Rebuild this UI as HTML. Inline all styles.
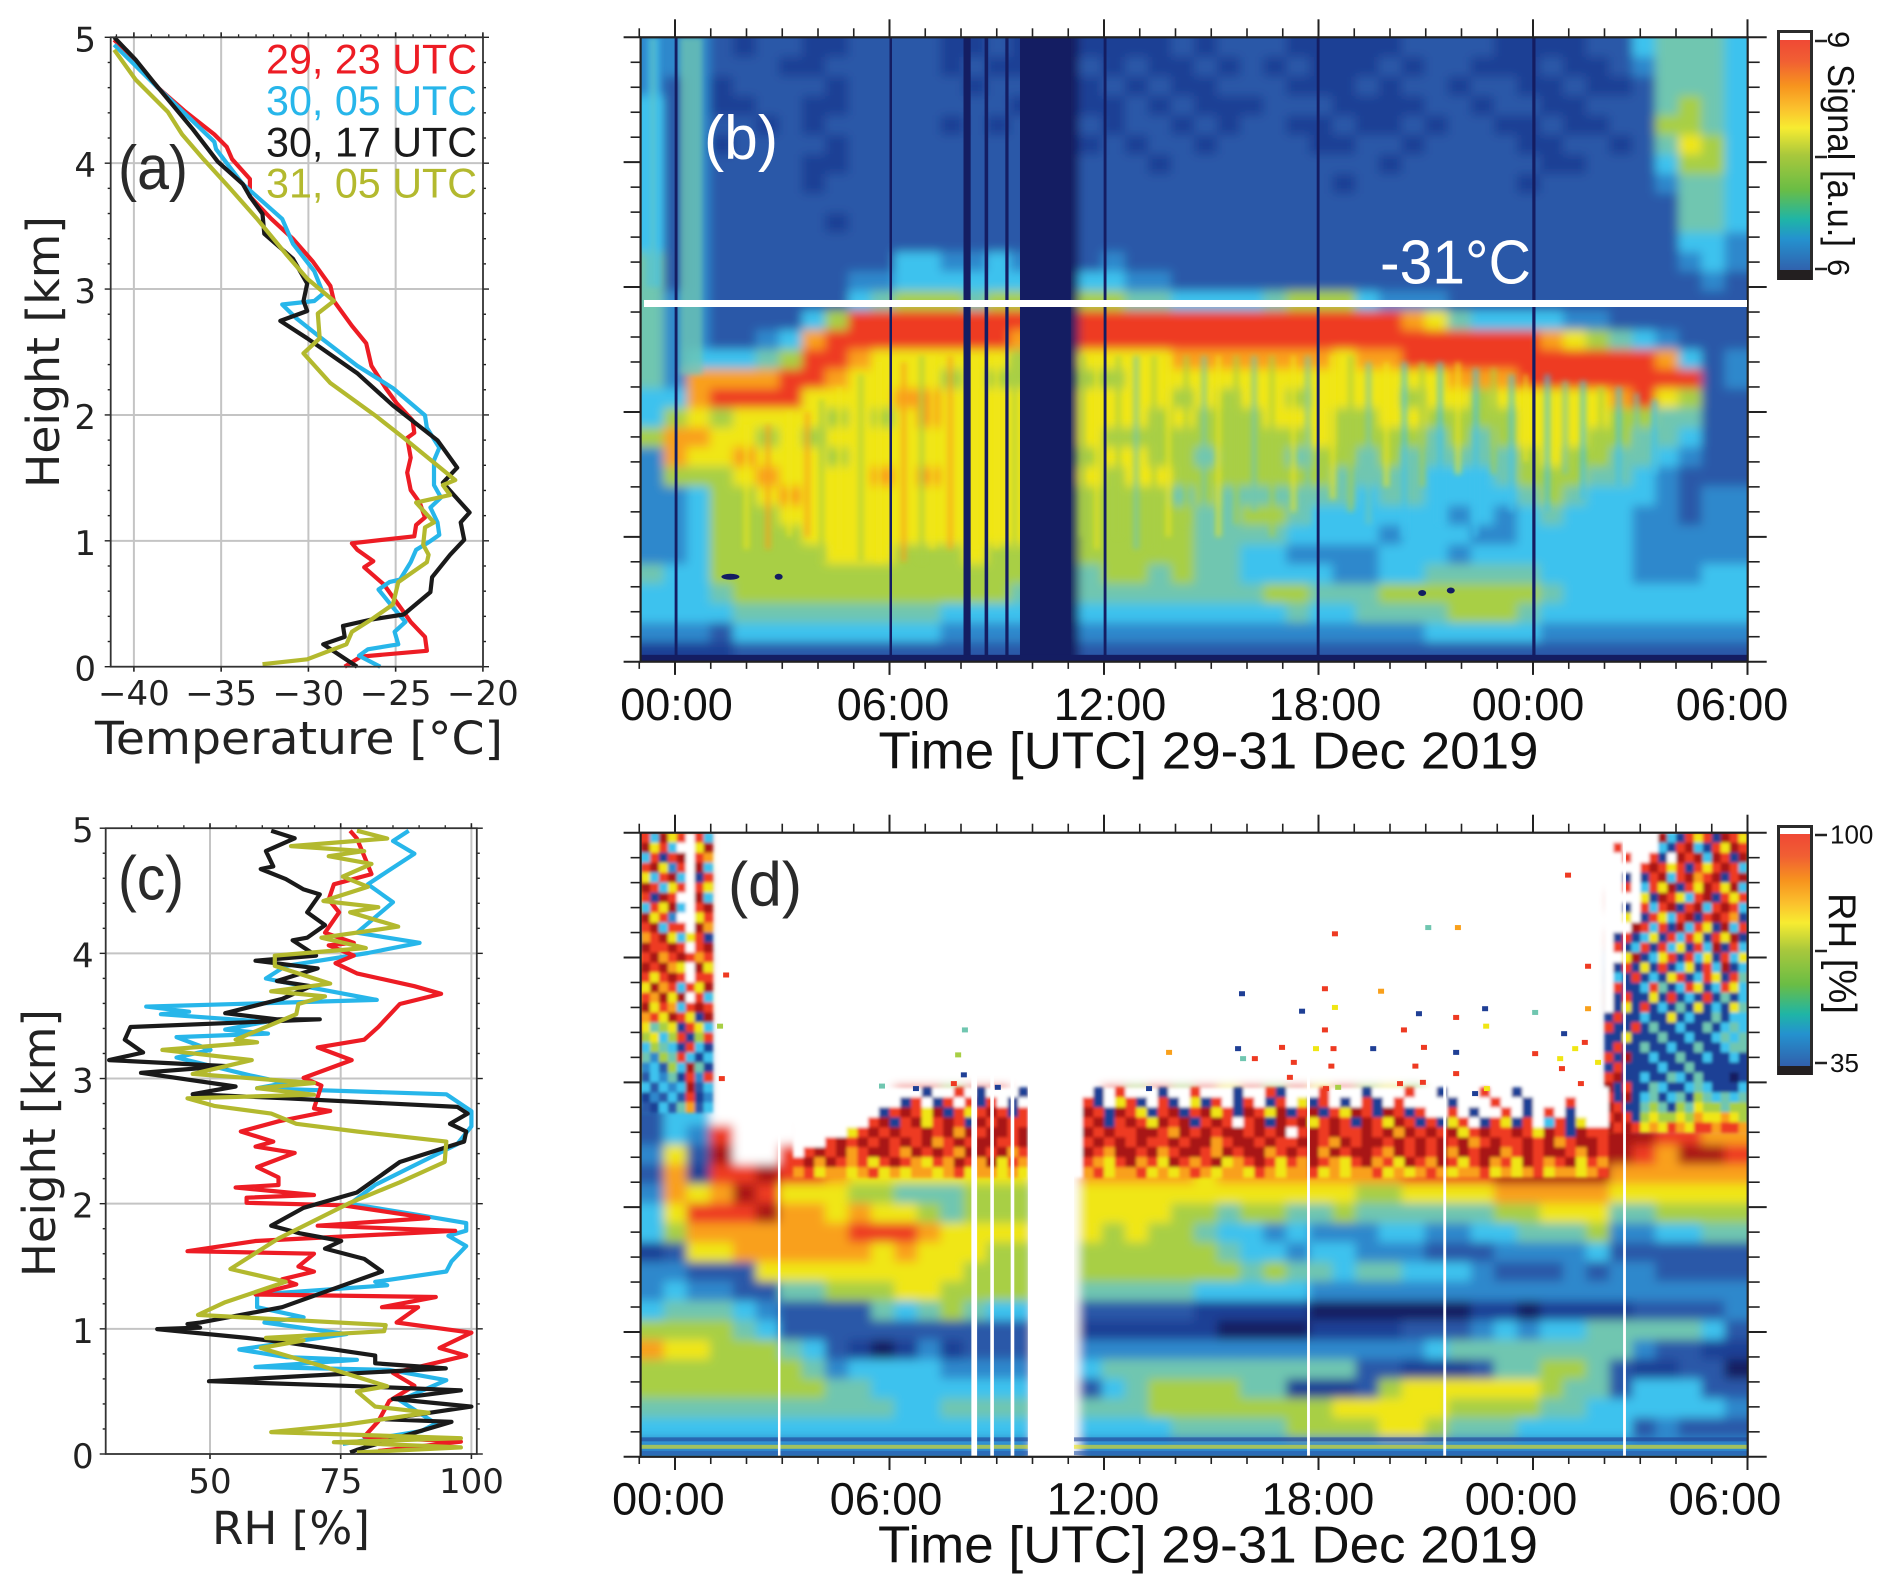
<!DOCTYPE html>
<html lang="en">
<head>
<meta charset="utf-8">
<title>Radiosonde profiles and time-height sections, 29-31 Dec 2019</title>
<style>
html,body{margin:0;padding:0;background:#fff;}
svg{display:block;}
.dj{font-family:"DejaVu Sans",sans-serif;fill:#222;}
.ls{font-family:"Liberation Sans",sans-serif;fill:#111;}
</style>
</head>
<body>
<svg id="figure" xmlns="http://www.w3.org/2000/svg" width="1892" height="1589" viewBox="0 0 1892 1589">
<defs>
<filter id="soft" filterUnits="userSpaceOnUse" x="600" y="0" width="1200" height="1589"><feGaussianBlur stdDeviation="5"/></filter>
<filter id="mid" filterUnits="userSpaceOnUse" x="600" y="0" width="1200" height="1589"><feGaussianBlur stdDeviation="2.6"/></filter>
<filter id="fine" filterUnits="userSpaceOnUse" x="600" y="0" width="1200" height="1589"><feGaussianBlur stdDeviation="1.6"/></filter>
<clipPath id="clip-b"><rect x="640.6" y="37.3" width="1107" height="624.4"/></clipPath>
<clipPath id="clip-d"><rect x="640.6" y="832.7" width="1107" height="624.1"/></clipPath>
<linearGradient id="jet" x1="0" y1="0" x2="0" y2="1">
<stop offset="0" stop-color="#ef4136"/><stop offset=".12" stop-color="#f15f33"/><stop offset=".22" stop-color="#f7941e"/><stop offset=".31" stop-color="#fbc02d"/><stop offset=".39" stop-color="#f7ec31"/><stop offset=".5" stop-color="#a9c83c"/><stop offset=".64" stop-color="#6abd45"/><stop offset=".76" stop-color="#1fb5a6"/><stop offset=".84" stop-color="#2492cf"/><stop offset="1" stop-color="#3455a4"/>
</linearGradient>
</defs>

<g id="panel-a">
<g id="a-grid"></g>
<g id="a-lines"></g>
<g id="a-axes"></g>
<text class="dj" x="299" y="754" font-size="45" text-anchor="middle" textLength="408" lengthAdjust="spacingAndGlyphs">Temperature [°C]</text>
<text class="dj" transform="translate(59,352) rotate(-90)" font-size="45" text-anchor="middle" textLength="272" lengthAdjust="spacingAndGlyphs">Height [km]</text>
<text class="ls" x="477" y="73.5" font-size="42" text-anchor="end" textLength="211" lengthAdjust="spacingAndGlyphs" style="fill:#ed1c24">29, 23 UTC</text>
<text class="ls" x="477" y="115" font-size="42" text-anchor="end" textLength="211" lengthAdjust="spacingAndGlyphs" style="fill:#27b6ea">30, 05 UTC</text>
<text class="ls" x="477" y="156.7" font-size="42" text-anchor="end" textLength="211" lengthAdjust="spacingAndGlyphs" style="fill:#1a1a1a">30, 17 UTC</text>
<text class="ls" x="477" y="197.5" font-size="42" text-anchor="end" textLength="211" lengthAdjust="spacingAndGlyphs" style="fill:#b3b92e">31, 05 UTC</text>
<text class="ls" x="118" y="189" font-size="62" textLength="70" lengthAdjust="spacingAndGlyphs" style="fill:#2a2a2a">(a)</text>
</g>

<g id="panel-c">
<g id="c-grid"></g>
<g id="c-lines"></g>
<g id="c-axes"></g>
<text class="dj" x="291" y="1544" font-size="45" text-anchor="middle" textLength="158" lengthAdjust="spacingAndGlyphs">RH [%]</text>
<text class="dj" transform="translate(55,1143) rotate(-90)" font-size="45" text-anchor="middle" textLength="268" lengthAdjust="spacingAndGlyphs">Height [km]</text>
<text class="ls" x="118" y="899.6" font-size="62" textLength="66" lengthAdjust="spacingAndGlyphs" style="fill:#2a2a2a">(c)</text>
</g>

<g id="panel-b">
<g clip-path="url(#clip-b)"><g id="b-cells" filter="url(#soft)"></g><g id="b-streaks" filter="url(#mid)"></g><g id="b-overlay"></g></g>
<g id="b-axes"></g>
<rect x="644" y="300" width="1103" height="7" fill="#fff"/>
<text class="ls" x="1380" y="283.6" font-size="62" textLength="151" lengthAdjust="spacingAndGlyphs" style="fill:#fff">-31°C</text>
<text class="ls" x="704" y="159" font-size="62" textLength="74" lengthAdjust="spacingAndGlyphs" style="fill:#fff">(b)</text>
<g font-size="45" text-anchor="middle">
<text class="ls" x="676.5" y="720">00:00</text>
<text class="ls" x="893" y="720">06:00</text>
<text class="ls" x="1110" y="720">12:00</text>
<text class="ls" x="1325" y="720">18:00</text>
<text class="ls" x="1528" y="720">00:00</text>
<text class="ls" x="1732" y="720">06:00</text>
</g>
<text class="ls" x="1208.5" y="768.6" font-size="52" text-anchor="middle" textLength="660" lengthAdjust="spacingAndGlyphs">Time [UTC] 29-31 Dec 2019</text>
<g>
<rect x="1778.5" y="31.5" width="33" height="247" fill="url(#jet)" stroke="#2b2b2b" stroke-width="3"/>
<rect x="1780" y="33" width="30" height="7" fill="#fff"/>
<rect x="1778" y="270" width="34" height="10" fill="#231f20"/>
<path d="M1815 41h12M1815 157h12M1815 269h12" stroke="#222" stroke-width="2.5" fill="none"/>
<text class="ls" transform="translate(1828,31) rotate(90)" font-size="31">9</text>
<text class="ls" transform="translate(1828,259) rotate(90)" font-size="31">6</text>
<text class="ls" transform="translate(1828,64) rotate(90)" font-size="37" textLength="183" lengthAdjust="spacingAndGlyphs">Signal [a.u.]</text>
</g>
</g>

<g id="panel-d">
<g clip-path="url(#clip-d)"><g id="d-cells" filter="url(#soft)"></g><g id="d-noise" filter="url(#fine)"></g><g id="d-overlay"></g></g>
<g id="d-axes"></g>
<text class="ls" x="728" y="905.7" font-size="62" textLength="74" lengthAdjust="spacingAndGlyphs" style="fill:#2a2a2a">(d)</text>
<g font-size="45" text-anchor="middle">
<text class="ls" x="668.4" y="1514.6">00:00</text>
<text class="ls" x="886" y="1514.6">06:00</text>
<text class="ls" x="1103" y="1514.6">12:00</text>
<text class="ls" x="1318" y="1514.6">18:00</text>
<text class="ls" x="1521" y="1514.6">00:00</text>
<text class="ls" x="1725" y="1514.6">06:00</text>
</g>
<text class="ls" x="1208" y="1562.4" font-size="52" text-anchor="middle" textLength="660" lengthAdjust="spacingAndGlyphs">Time [UTC] 29-31 Dec 2019</text>
<g>
<rect x="1778.5" y="826.5" width="33" height="247" fill="url(#jet)" stroke="#2b2b2b" stroke-width="3"/>
<rect x="1780" y="828" width="30" height="6" fill="#fff"/>
<rect x="1778" y="1066" width="34" height="9" fill="#231f20"/>
<path d="M1815 835h12M1815 951h12M1815 1063h12" stroke="#222" stroke-width="2.5" fill="none"/>
<text class="ls" x="1830" y="843.5" font-size="26">100</text>
<text class="ls" x="1830" y="1072" font-size="26">35</text>
<text class="ls" transform="translate(1829,893) rotate(90)" font-size="39" textLength="121" lengthAdjust="spacingAndGlyphs">RH [%]</text>
</g>
</g>
</svg>

<script>
/* ---------- Panel (a): temperature profiles ---------- */
const tempHeightRed=[0,.08,.126,.237,.356,.435,.553,.652,.79,.838,.929,.98,1.036,1.126,1.186,1.304,1.403,1.542,1.66,1.818,1.858,1.957,2.095,2.213,2.391,2.569,2.708,2.905,3.024,3.221,3.399,3.557,3.735,3.874,4.032,4.13,4.229,4.407,4.605,4.802,4.98];
const tempValuesRed=[-27.92,-27,-23.21,-23.32,-24.14,-24.54,-25.16,-25.67,-26.8,-26.28,-27.2,-27.51,-23.93,-23.83,-23.32,-23.62,-24.14,-24.34,-24.14,-24.34,-23.93,-24.03,-24.95,-25.57,-26.39,-26.69,-27.51,-28.54,-28.74,-29.76,-30.89,-32.12,-33.35,-33.35,-34.37,-34.68,-35.39,-37.03,-38.67,-39.9,-41.13];
const tempHeightBlue=[0,.087,.138,.178,.277,.356,.455,.613,.672,.692,.83,.929,.988,1.047,1.146,1.265,1.344,1.443,1.64,1.739,1.897,1.996,2.213,2.391,2.609,2.767,2.877,2.905,2.964,3.142,3.36,3.557,3.834,4.111,4.17,4.605,4.941];
const tempValuesBlue=[-25.88,-27.1,-26.59,-24.85,-25.06,-24.44,-25.06,-25.98,-25.36,-24.75,-24.14,-23.83,-23.11,-22.5,-22.6,-23.01,-22.4,-22.8,-22.8,-22.5,-23.21,-23.32,-25.16,-27.21,-29.25,-30.69,-31.5,-29.66,-29.15,-29.66,-30.89,-31.5,-33.76,-35.29,-35.39,-38.67,-41.13];
const tempHeightBlack=[0,.178,.237,.324,.375,.415,.593,.711,.889,1.008,1.146,1.225,1.304,1.462,1.581,1.798,2.075,2.332,2.609,2.747,2.826,2.905,3.043,3.241,3.439,3.597,3.735,3.834,4.012,4.269,4.644,4.822,5];
const tempValuesBlack=[-27.21,-29.15,-27.92,-28.02,-26.39,-24.54,-23.01,-22.91,-21.88,-21.07,-21.27,-20.76,-21.27,-22.29,-21.47,-22.6,-25.16,-27.21,-30.07,-31.61,-30.07,-30.28,-30.07,-30.89,-32.53,-32.63,-33.35,-33.76,-35.19,-36.62,-38.87,-39.9,-41.13];
const tempHeightOlive=[.02,.059,.178,.277,.375,.494,.672,.83,.889,.968,1.107,1.146,1.304,1.364,1.443,1.482,1.818,1.996,2.253,2.49,2.609,2.806,2.905,3.083,3.281,3.557,3.814,4.032,4.229,4.407,4.664,4.901];
const tempValuesOlive=[-32.63,-30.07,-27.82,-27.51,-26.39,-25.16,-24.85,-23.21,-23.11,-23.42,-23.32,-22.8,-23.83,-21.88,-22.29,-21.58,-24.54,-26.18,-28.74,-30.28,-29.35,-29.46,-28.54,-30.07,-31.3,-32.94,-34.58,-36.01,-37.24,-38.06,-39.9,-41.13];
const tempTicks=[-40,-35,-30,-25,-20];
const tempTickLabels=['\u221240','\u221235','\u221230','\u221225','\u221220'];

/* ---------- Panel (c): relative humidity profiles ---------- */
const rhHeightBlue=[4.98,4.898,4.796,4.654,4.552,4.409,4.165,4.084,4.003,3.9,3.799,3.738,3.628,3.575,3.534,3.514,3.453,3.391,3.359,3.331,3.229,3.168,3.025,2.964,2.923,2.874,2.74,2.618,2.476,2.292,2.15,1.999,1.906,1.845,1.784,1.743,1.661,1.539,1.458,1.376,1.348,1.274,1.173,1.092,1.051,.958,.835,.774,.753,.695,.672,.59,.428,.244,.183,.081];
const rhValuesBlue=[88,85,89.1,83.9,80.2,85,78.1,90.1,80.2,64.5,60.7,67.9,81.9,37.8,46,40.6,60.7,52.9,61.1,43.6,50.1,43.6,57.7,64.5,59,95.2,100,100,97.3,88.4,81.6,76.8,90.4,99,99,95.6,99,96.2,95.2,81.6,83.9,59,59,67.9,60.4,76.1,55.6,64.5,78.1,58.7,84.3,95.2,86.3,93.2,90.4,75.4];
const rhHeightRed=[4.98,4.918,4.777,4.633,4.552,4.43,4.328,4.165,4.084,4.064,3.982,3.921,3.84,3.738,3.677,3.595,3.412,3.31,3.249,3.147,3.005,2.944,2.761,2.741,2.658,2.577,2.496,2.456,2.406,2.292,2.21,2.149,2.129,2.069,2.048,2.007,1.987,1.885,1.824,1.783,1.702,1.62,1.6,1.498,1.457,1.396,1.356,1.274,1.254,1.173,1.173,1.051,.969,.847,.786,.647,.546,.424,.261,.138,.098,.024];
const rhValuesRed=[76.8,78.1,79.5,80.9,73.7,72.7,74.7,72,77.5,72.7,77.5,74,78.1,89.1,94.2,86.3,82.2,79.5,70.6,77.1,67.9,71.3,69.9,73,63.1,55.9,62.1,58.7,66.2,59,63.1,63.1,54.9,69.9,57,57,75.4,91.8,70.6,96.9,58.7,45.7,69.9,66.9,69.9,63.8,66.5,58.7,93.2,82.9,89.8,85.7,100,93.9,99,85,89.1,84.3,82.2,79.5,98,82.2];
const rhHeightBlack=[4.98,4.919,4.817,4.695,4.674,4.593,4.511,4.471,4.328,4.226,4.125,4.104,3.982,3.941,3.88,3.779,3.738,3.636,3.522,3.473,3.473,3.412,3.31,3.208,3.147,3.099,3.046,2.936,2.875,2.842,2.773,2.72,2.638,2.577,2.496,2.333,2.089,1.967,1.824,1.763,1.702,1.641,1.559,1.458,1.336,1.173,1.05,1.038,1.01,.998,.928,.888,.786,.725,.684,.623,.582,.542,.509,.44,.379,.277,.257,.033,.012];
const rhValuesBlack=[61.7,66.2,60.7,62.1,59.7,64.5,67.9,71,68.6,72,68.6,65.8,70.3,58.7,70.6,62.8,69.3,63.8,52.9,62.8,71,34.8,33.7,37.2,30.7,53.2,36.8,54.9,46.7,64.5,97.3,99.3,95.9,99,98.6,86.3,78.1,67.9,61.7,67.2,75.1,72,79.5,82.9,74.7,63.8,48.1,45.7,48.1,39.9,57,65.2,81.6,81.6,95.1,67.9,49.8,78.1,98,85,100,83.6,96.2,78.1,76.8];
const rhHeightOlive=[4.98,4.918,4.857,4.817,4.776,4.715,4.613,4.532,4.418,4.369,4.328,4.214,4.125,4.043,3.982,3.9,3.758,3.697,3.656,3.595,3.514,3.31,3.289,3.229,3.147,3.037,2.964,2.923,2.871,2.842,2.781,2.72,2.638,2.577,2.496,2.333,2.171,2.007,1.722,1.478,1.376,1.213,1.111,1.03,.981,.928,.908,.847,.704,.541,.5,.379,.33,.236,.175,.126,.094,.053,.012];
const rhValuesOlive=[78.1,83.9,65.5,79.5,72.7,80.9,75.4,80.2,71.7,82.2,76.8,86,71.3,79.8,62.4,62.4,73,61.7,72,66.9,66.5,54.9,59,40.9,58,46.7,69.9,59,69.9,45.7,50.8,61.7,66.5,78.1,95.2,94.9,86.3,76.8,63.1,53.9,64.5,52.9,47.7,83.6,83.3,60.7,67.9,59.7,71.3,83.9,78.1,81.6,91.8,76.1,61.7,98,73.7,98,78.1];
const rhTicks=[50,75,100];
const rhTickLabels=['50','75','100'];
const heightTicks=[0,1,2,3,4,5];
const heightTickLabels=['0','1','2','3','4','5'];

/* ---------- Panel (b): signal section, one array per time column, top row first ---------- */
const signalColumns=[
[3,3,3,4,4,4,4,4,4,4,4,5,5,5,5,5,5,5,4,4,6,3,3,3,3,3,3,5,4,4,3,1],
[3,3,2,2,2,2,2,2,2,2,2,2,2,3,3,3,3,3,4,6,8,8,6,3,3,3,3,4,4,4,3,1],
[3,3,3,3,3,3,3,3,3,3,3,3,3,3,3,3,4,8,8,7,8,7,6,4,4,4,4,4,4,4,3,1],
[2,2,1,1,2,1,2,2,2,2,2,2,2,2,2,2,4,8,9,6,7,7,6,6,6,6,6,6,5,4,2,1],
[1,2,2,1,2,2,2,2,2,2,2,2,2,2,2,2,4,8,9,7,7,8,7,6,6,6,6,6,6,5,4,2],
[2,2,2,2,1,2,2,2,2,2,2,2,2,2,2,3,5,8,9,7,6,7,8,7,6,6,6,6,6,5,4,2],
[2,1,2,2,2,2,2,2,2,2,2,2,2,2,2,4,6,9,9,7,7,7,7,8,7,6,6,6,6,5,4,2],
[1,1,2,1,1,2,1,1,2,2,2,2,2,2,4,8,9,9,7,7,6,7,7,7,7,7,6,6,6,5,4,2],
[1,2,1,1,2,1,1,2,2,1,2,2,2,2,6,9,9,8,7,6,7,6,7,7,7,7,7,6,6,5,4,2],
[2,2,2,2,2,2,2,2,2,2,2,2,3,4,9,9,8,7,7,7,7,7,7,7,7,7,7,6,6,5,4,2],
[2,2,2,2,2,2,2,2,2,2,2,2,3,5,9,9,7,7,7,6,7,7,8,7,7,7,7,6,6,5,4,2],
[2,2,2,2,2,2,2,2,2,2,2,4,4,6,9,9,7,7,8,7,7,7,7,7,7,7,6,6,6,5,4,2],
[2,2,2,2,2,2,2,2,2,2,2,4,4,6,9,9,7,7,8,8,7,7,8,7,7,7,6,6,6,5,4,2],
[1,1,2,2,1,2,2,2,2,2,2,3,4,6,9,9,7,6,7,7,7,7,7,7,7,7,6,6,6,4,3,2],
[1,2,1,2,2,2,2,2,2,2,2,3,4,5,9,9,7,7,7,7,7,7,7,7,7,7,7,6,6,4,3,2],
[2,1,2,2,1,2,2,2,2,2,2,4,4,6,9,9,7,6,7,7,7,7,7,7,7,7,6,6,6,4,3,2],
[1,1,2,1,2,2,2,2,2,2,2,3,4,6,9,8,6,6,7,7,7,7,7,7,7,7,6,6,5,4,3,2],
[0,0,0,0,0,0,0,0,0,0,0,0,0,0,0,0,0,0,0,0,0,0,0,0,0,0,0,0,0,0,0,0],
[0,0,0,0,0,0,0,0,0,0,0,0,0,0,0,0,0,0,0,0,0,0,0,0,0,0,0,0,0,0,0,0],
[1,2,1,1,2,1,2,2,2,2,2,2,4,6,9,9,7,6,7,7,7,6,7,6,6,6,6,5,5,4,3,2],
[1,1,2,1,1,2,2,2,2,2,2,3,4,6,9,9,7,6,7,7,6,7,6,6,6,6,6,6,5,4,3,2],
[1,2,1,2,2,1,2,2,2,2,2,2,3,5,9,9,7,7,7,7,6,7,7,6,6,6,6,6,5,4,3,2],
[1,1,2,1,2,2,1,2,2,2,2,2,3,5,9,9,7,7,7,6,6,6,7,6,6,6,6,5,5,4,3,2],
[2,1,1,2,1,2,2,2,2,2,2,2,2,4,9,9,8,7,6,7,6,6,6,5,6,6,6,6,5,4,3,2],
[1,2,1,1,2,1,2,2,2,2,2,2,2,4,9,9,8,7,7,6,6,5,6,6,5,5,5,5,5,4,3,2],
[2,1,2,1,1,2,2,2,2,2,2,2,2,4,9,9,8,7,6,6,6,6,6,5,5,5,5,5,5,4,3,2],
[2,2,2,1,2,2,2,2,2,2,2,2,2,4,9,9,8,7,7,6,6,6,6,5,6,5,4,4,5,4,3,2],
[2,1,2,2,2,2,2,2,2,2,2,2,2,5,9,9,8,7,7,7,6,6,6,5,6,5,4,4,6,4,3,2],
[1,2,1,2,1,2,2,2,2,2,2,2,2,6,9,9,8,7,6,7,6,5,6,5,5,4,3,4,6,5,3,2],
[1,1,1,2,1,1,2,2,2,2,2,2,2,6,9,9,8,7,7,7,7,6,6,5,4,4,3,4,5,4,3,2],
[1,1,1,1,2,1,2,1,2,2,2,2,2,6,9,9,7,7,7,6,6,6,5,5,4,4,3,3,5,4,3,2],
[1,1,2,1,1,2,2,2,2,2,2,2,2,4,9,9,8,7,7,6,6,5,5,4,4,4,3,3,5,5,3,2],
[1,2,1,1,1,2,1,2,2,2,2,2,2,3,9,9,8,7,7,7,6,6,5,5,4,3,4,4,6,5,3,2],
[2,1,2,1,2,1,2,2,2,2,2,2,2,3,8,9,9,7,6,7,6,5,5,5,4,4,4,4,6,5,3,2],
[2,2,2,2,1,2,2,2,2,2,2,2,2,3,7,9,9,7,7,6,5,5,4,4,4,4,4,5,6,5,4,2],
[2,2,1,2,2,2,2,2,2,2,2,2,2,2,5,9,9,8,7,6,6,5,4,4,3,4,3,5,6,6,4,2],
[2,1,2,1,2,2,2,2,2,2,2,2,2,2,4,9,9,8,6,6,5,5,4,4,4,3,4,5,6,6,4,2],
[1,1,2,2,1,2,2,2,2,2,2,2,2,2,4,9,9,8,7,6,6,5,5,4,3,3,4,5,6,6,4,2],
[1,1,1,2,1,1,2,1,2,2,2,2,2,2,4,9,9,9,7,7,7,6,6,5,4,4,4,5,6,5,4,2],
[1,2,1,1,2,1,1,2,2,2,2,2,2,2,4,8,9,9,7,7,7,7,6,6,5,4,4,4,5,4,3,2],
[1,1,2,1,1,2,1,2,2,2,2,2,2,2,3,7,9,9,7,7,7,6,6,5,4,4,4,4,4,4,3,2],
[2,1,1,2,1,2,2,2,2,2,2,2,2,2,3,6,9,9,7,7,6,6,5,4,4,4,4,4,4,4,3,2],
[2,2,1,2,2,1,2,2,2,2,2,2,2,2,2,5,9,9,8,6,6,5,5,4,4,4,4,4,4,4,3,2],
[4,3,2,2,2,2,2,2,2,2,2,2,2,2,2,4,9,9,9,6,5,5,4,4,3,3,3,3,4,4,3,2],
[5,5,5,5,6,5,4,3,2,2,2,2,2,2,2,3,8,9,7,5,5,4,3,3,3,3,3,3,4,4,3,2],
[5,5,5,6,6,7,6,5,5,5,4,3,2,2,2,2,4,9,6,5,4,3,2,2,2,3,3,3,4,4,3,2],
[5,5,5,5,5,6,6,5,5,5,4,4,3,2,2,2,2,2,2,2,2,2,2,3,3,3,3,4,4,4,3,2],
[4,4,4,4,4,4,4,4,4,4,3,3,2,2,2,2,3,3,2,2,2,2,2,3,3,3,3,4,4,4,3,2]
];
const signalGapStart=[-0.01,6,8.07,8.66,9.24,9.65,11.99,17.95,23.98];
const signalGapEnd=[0.07,6.07,8.27,8.76,9.33,11.07,12.07,18.03,24.07];
const signalHoleHour=[1.55,2.9,20.9,21.7];
const signalHoleHeight=[.68,.68,.55,.57];
const streakHour=[.2,.3,.4,.5,.6,.7,-.7,-.6,-.5,2,2.6,3.2,3.7,4.1,4.6,5.2,5.7,6.4,6.9,7.2,7.7,8.4,9,9.5,11.4,11.8,12.4,12.9,13.4,13.8,14.3,14.8,15.2,15.7,16.2,16.7,17.3,17.7,18.4,18.9,19.4,19.9,20.4,20.9,21.4,21.9,22.4,22.9,23.4,23.8,24.4,24.9,25.4,25.9,26.4,26.9,27.4];
const streakLevel=[5,5,5,5,5,5,4,5,4,7,8,7,8,6,7,6,7,8,6,7,8,7,7,6,6,7,6,5,6,7,6,5,7,6,5,6,7,5,7,6,5,7,4,6,4,7,4,6,4,7,4,5,4,6,4,5,4];
const streakTop=[5,5,5,5,5,5,5,5,5,1.9,1.9,2,2,2.1,2.2,2.3,2.4,2.4,2.45,2.45,2.45,2.45,2.45,2.45,2.45,2.45,2.45,2.45,2.45,2.45,2.45,2.45,2.45,2.45,2.45,2.45,2.45,2.45,2.45,2.45,2.4,2.4,2.4,2.4,2.4,2.4,2.35,2.35,2.3,2.3,2.3,2.25,2.25,2.2,2.2,2.15,2.1];
const streakBottom=[2.3,2.3,2.3,2.3,2.3,2.3,3,3,3,.9,.9,1,1,.8,.9,.8,.8,.8,.8,.9,.9,.9,.9,.9,1,.9,1,.9,.9,1,1.1,1,1,1.1,1.2,1,1.2,1.1,1.3,1.2,1.1,1.4,1,1.4,1.1,1.5,1,1.5,1.2,1.6,1.2,1.5,1.3,1.6,1.4,1.6,1.5];

/* ---------- Panel (d): RH section, one array per time column, 11 = no data ---------- */
const rhColumns=[
[9,4,10,7,9,3,8,10,7,9,10,9,6,4,2,2,3,2,3,4,4,1,3,3,4,6,8,6,6,5,4,3],
[8,9,3,10,7,9,4,9,10,7,8,5,4,3,4,4,7,8,8,7,6,2,3,4,5,6,7,6,6,5,4,3],
[9,7,10,8,9,4,10,9,7,9,4,3,2,1,4,3,2,1,7,9,8,7,2,3,5,6,7,6,6,5,4,3],
[11,11,11,11,11,11,11,11,11,11,11,11,11,11,11,9,10,9,8,9,8,7,2,3,5,6,6,6,6,5,4,3],
[11,11,11,11,11,11,11,11,11,11,11,11,11,11,11,11,11,9,10,9,8,8,2,2,4,5,6,6,6,5,4,3],
[11,11,11,11,11,11,11,11,11,11,11,11,11,11,11,11,11,10,9,10,8,8,7,2,3,4,6,6,6,5,4,3],
[11,11,11,11,11,11,11,11,11,11,11,11,11,11,11,11,9,9,7,8,8,8,7,5,2,2,5,6,6,5,4,3],
[11,11,11,11,11,11,11,11,11,11,11,11,11,11,11,9,10,9,7,8,8,8,7,5,2,2,4,5,6,5,4,3],
[11,11,11,11,11,11,11,11,11,11,11,11,11,11,11,10,9,8,7,7,8,8,7,6,2,2,2,3,5,5,4,3],
[11,11,11,11,11,11,11,11,11,11,11,11,11,11,9,10,10,7,6,8,9,8,7,6,2,2,1,4,5,5,4,3],
[11,11,11,11,11,11,11,11,11,11,11,11,11,11,10,9,10,7,6,7,9,7,7,6,5,2,0,4,4,5,4,3],
[11,11,11,11,11,11,11,11,11,11,11,11,11,9,10,9,10,7,5,7,9,8,7,7,4,2,1,4,4,4,4,3],
[11,11,11,11,11,11,11,11,11,11,11,11,11,9,10,9,9,7,5,6,8,7,7,7,5,2,3,4,4,4,4,3],
[11,11,11,11,11,11,11,11,11,11,11,11,11,6,9,10,9,7,5,5,7,7,7,6,6,2,1,3,4,5,4,3],
[11,11,11,11,11,11,11,11,11,11,11,11,11,9,10,10,9,7,6,6,7,7,6,6,5,2,2,3,4,5,4,3],
[11,11,11,11,11,11,11,11,11,11,11,11,11,9,9,10,10,7,6,6,7,6,6,6,4,2,2,3,4,5,4,3],
[11,11,11,11,11,11,11,11,11,11,11,11,11,11,10,9,10,7,6,6,7,6,6,6,4,2,2,3,4,5,4,3],
[11,11,11,11,11,11,11,11,11,11,11,11,11,11,11,11,11,11,11,11,11,11,11,11,11,11,11,11,11,11,11,11],
[11,11,11,11,11,11,11,11,11,11,11,11,11,11,11,11,11,11,11,11,11,11,11,11,11,11,11,11,11,11,11,11],
[11,11,11,11,11,11,11,11,11,11,11,11,11,11,9,10,9,8,7,7,7,6,6,5,2,1,3,4,2,5,4,3],
[11,11,11,11,11,11,11,11,11,11,11,11,11,9,10,10,9,8,7,7,6,6,6,5,2,1,3,5,4,5,4,3],
[11,11,11,11,11,11,11,11,11,11,11,11,11,6,9,10,10,8,7,7,7,6,6,5,2,1,3,5,5,5,4,3],
[11,11,11,11,11,11,11,11,11,11,11,11,11,9,10,9,9,8,7,7,6,6,6,5,2,1,3,5,6,6,4,3],
[11,11,11,11,11,11,11,11,11,11,11,11,11,6,10,10,9,8,7,6,6,6,6,5,2,1,3,5,6,6,5,3],
[11,11,11,11,11,11,11,11,11,11,11,11,11,9,10,10,9,7,7,6,5,6,6,4,1,1,3,5,6,6,5,3],
[11,11,11,11,11,11,11,11,11,11,11,11,11,7,9,10,9,8,7,5,4,5,6,4,1,0,3,5,6,6,5,3],
[11,11,11,11,11,11,11,11,11,11,11,11,11,9,10,9,10,8,7,6,4,4,5,4,1,0,3,5,5,6,5,3],
[11,11,11,11,11,11,11,11,11,11,11,11,11,6,10,10,9,8,7,6,3,4,6,4,1,0,3,5,5,6,5,3],
[11,11,11,11,11,11,11,11,11,11,11,11,11,9,9,10,10,8,7,5,4,3,5,4,1,0,3,5,1,6,6,3],
[11,11,11,11,11,11,11,11,11,11,11,11,11,7,10,10,9,8,7,5,3,4,5,3,0,1,3,5,1,6,6,3],
[11,11,11,11,11,11,11,11,11,11,11,11,11,9,10,9,10,8,7,6,3,4,4,3,0,1,3,5,1,7,6,3],
[11,11,11,11,11,11,11,11,11,11,11,11,11,6,9,10,10,8,6,5,3,3,5,3,0,1,3,2,2,7,6,3],
[11,11,11,11,11,11,11,11,11,11,11,11,11,7,10,10,9,8,6,5,4,3,5,3,0,1,3,2,6,7,7,3],
[11,11,11,11,11,11,11,11,11,11,11,11,11,6,9,10,10,9,7,5,4,3,4,3,0,2,3,1,7,7,7,3],
[11,11,11,11,11,11,11,11,11,11,11,11,11,11,9,10,10,9,7,5,3,2,4,3,0,2,4,1,7,7,6,3],
[11,11,11,11,11,11,11,11,11,11,11,11,11,11,9,10,10,9,7,5,3,2,4,3,0,2,5,1,7,6,5,3],
[11,11,11,11,11,11,11,11,11,11,11,11,11,11,9,10,10,9,7,5,4,2,3,3,1,3,5,2,7,6,5,3],
[11,11,11,11,11,11,11,11,11,11,11,11,11,11,6,9,10,10,8,6,4,3,2,3,1,4,5,5,7,6,5,3],
[11,11,11,11,11,11,11,11,11,11,11,11,11,11,4,9,10,10,8,6,5,3,2,3,0,3,5,5,7,6,4,3],
[11,11,11,11,11,11,11,11,11,11,11,11,11,11,6,9,10,10,8,7,5,3,2,3,1,4,5,6,6,5,4,3],
[11,11,11,11,11,11,11,11,11,11,11,11,11,11,6,9,10,10,8,7,5,3,3,3,1,4,5,6,5,5,4,3],
[11,11,11,11,11,11,11,11,11,11,11,11,11,11,6,10,10,10,8,7,6,4,2,3,1,5,5,5,5,4,4,3],
[11,11,11,9,11,9,3,1,10,1,3,1,2,1,9,10,10,8,7,5,3,2,3,3,1,5,5,2,2,4,4,3],
[11,9,3,9,10,7,4,9,2,3,1,9,2,1,3,10,9,8,7,5,3,2,3,3,2,5,3,1,4,4,2,3],
[11,3,10,9,4,9,7,3,10,4,2,1,2,5,4,9,8,8,7,6,4,2,2,3,2,5,2,1,4,4,3,3],
[9,10,4,7,10,9,3,9,4,7,1,3,1,2,5,9,10,8,7,6,4,2,2,3,2,5,2,2,4,4,2,3],
[10,9,7,3,9,10,7,4,9,3,2,1,4,1,5,8,10,8,7,6,5,2,2,3,2,4,1,2,2,4,2,3],
[9,7,10,9,4,9,2,9,3,4,4,2,1,2,5,8,9,8,7,6,5,2,2,3,3,2,1,0,2,3,2,3]
];
const rhGapStart=[2.88,8.29,8.82,9.39,9.87,17.68,21.49,26.52];
const rhGapEnd=[2.95,8.45,8.92,9.49,11.16,17.76,21.57,26.6];
const groundBandHeight=[.14,.08,.03];
const groundBandLevel=[1,7,2];
const speckHour=[18.46,21.07,21.9,24.98,15.86,18.18,19.75,17.54,18.46,20.81,21.85,22.66,22.69,24.06,25.54,25.54,18.18,20.39,16.98,17.93,18.42,19.53,20.95,21.85,24.06,25.18,25.45,24.87,24.76,25.82,17.31,16.22,18.36,20.71,21.85,18.55,18.21,20.92,20.28,22.71,22.38,17.2,24.81,25.34,8.11,7.92,8.08,7.8,5.79,6.74,15.75,15.89,13.82,9.03,13.26,1.43,1.26,1.31];
const speckHeight=[4.19,4.24,4.24,4.66,3.71,3.75,3.73,3.57,3.6,3.55,3.52,3.59,3.45,3.56,3.93,3.59,3.42,3.42,3.28,3.27,3.27,3.27,3.28,3.24,3.23,3.27,3.32,3.39,3.19,3.16,3.16,3.19,3.13,3.13,3.07,2.96,2.95,3,2.99,2.95,2.91,3.04,3.11,2.99,3.42,3.22,3.06,2.99,2.97,2.95,3.27,3.19,3.24,2.96,2.95,3.86,3.45,3.03];
const speckLevel=[9,5,8,9,1,9,8,1,7,1,9,1,7,5,9,8,9,9,9,7,9,1,9,1,9,7,9,1,7,7,9,9,9,9,9,6,9,9,9,7,1,9,9,9,5,6,1,9,5,1,1,5,8,1,1,9,6,9];

/* Fine noise texture, read by eye: left sounding-top block, one array per height row, top first */
const noiseLeftRows=[
[9,4,10,7,9,11,9,4],[10,7,9,4,11,11,7,10],[4,9,1,9,10,11,9,8],[9,10,7,3,9,11,10,4],[7,4,9,10,4,11,1,9],[10,9,4,7,9,11,9,7],[9,1,10,9,11,11,10,4],[4,9,7,10,4,11,9,10],
[10,7,9,3,11,11,7,9],[9,10,4,9,9,11,10,8],[8,9,10,7,4,7,9,1],[10,9,9,10,9,11,9,10],[9,10,8,9,10,9,8,9],[10,9,10,8,7,11,10,7],[9,7,9,10,9,11,9,9],[7,10,8,9,4,9,7,10],
[9,8,10,7,10,11,9,4],[10,7,9,8,4,9,10,9],[8,9,7,10,9,7,1,10],[7,5,6,7,1,9,7,4],[6,7,4,6,9,1,6,9],[4,6,5,4,1,9,4,1],[5,3,6,5,9,4,1,4],[3,4,2,6,4,10,5,1],
[2,4,3,5,1,9,3,9],[4,2,4,3,4,10,2,4],[1,3,2,4,2,9,1,3],[2,1,4,2,5,8,2,4]
];
/* Right block, 16 columns from 26:00 on the second day */
const noiseRightRows=[
[11,11,11,11,11,11,10,4,1,9,7,9,1,10,9,7],[11,9,11,11,11,11,4,1,9,10,4,1,9,7,10,9],[11,11,9,11,11,9,1,11,10,9,10,4,10,9,1,10],[11,11,11,11,9,10,9,7,9,1,9,7,9,10,9,4],
[11,11,1,11,1,9,10,4,9,10,8,9,10,1,9,10],[11,11,9,11,4,9,7,10,1,9,7,10,9,7,10,4],[11,11,11,11,7,1,10,9,7,4,9,10,1,9,7,9],[11,11,1,11,9,4,9,10,1,9,10,4,9,10,9,4],
[11,11,7,11,1,9,7,4,9,10,1,9,10,9,8,1],[11,11,11,10,9,4,9,1,10,4,9,7,1,10,4,9],[11,1,9,1,4,7,1,9,4,9,7,1,9,7,10,1],[11,9,1,4,9,1,9,4,7,1,9,4,10,1,9,4],
[11,11,7,10,1,4,7,9,1,9,4,7,1,9,4,7],[11,1,9,1,7,1,9,1,4,7,1,9,4,10,1,4],[11,4,1,9,1,4,1,7,9,1,4,9,7,1,9,5],[11,9,1,1,4,9,5,1,4,9,7,1,4,9,7,4],
[11,1,9,1,1,7,1,9,1,4,1,9,1,5,1,4],[11,1,7,1,9,1,4,1,5,1,7,1,4,1,7,5],[1,9,1,1,4,1,1,7,1,4,1,1,5,1,4,4],[9,1,1,9,1,5,1,1,4,1,1,5,1,4,5,4],
[1,1,7,1,1,1,5,1,1,4,1,1,4,5,4,5],[1,9,1,1,5,1,1,4,1,1,5,1,1,4,5,5],[9,1,10,1,1,4,1,1,5,1,1,4,1,1,4,1],[1,9,1,1,1,1,4,1,1,5,1,1,1,1,1,1],
[9,10,1,1,4,1,1,5,4,1,5,1,1,1,0,1],[10,1,9,1,1,5,4,1,1,4,5,4,1,1,1,4],[9,1,10,1,4,5,1,4,5,1,6,5,4,5,4,5],[10,9,1,1,5,6,5,1,6,5,7,6,6,5,6,6],
[9,10,9,1,6,7,6,6,7,6,8,7,7,8,7,6],[10,9,10,9,7,8,7,9,8,7,9,9,8,9,9,8]
];
/* Cloud-top band, 76 columns from 03:18 in 0.3 h steps */
const noiseBandRows=[
[11,11,11,11,11,11,11,11,11,11,11,11,1,11,11,9,11,1,11,11,11,1,11,11,11,11,11,11,1,11,9,11,11,11,1,11,11,9,11,11,11,1,11,11,9,1,11,11,11,9,11,11,11,1,11,11,11,9,11,11,1,11,11,11,9,11,11,1,11,11,11,11,11,11,11,11],
[11,11,11,11,11,11,11,11,11,11,1,9,11,1,9,11,9,1,9,11,1,11,11,11,11,11,11,9,1,11,7,9,1,11,9,1,11,7,1,9,11,1,9,11,1,9,11,7,1,9,11,1,11,9,1,11,9,11,11,11,11,1,11,11,11,9,11,11,1,11,11,11,9,11,11,11],
[11,11,11,11,11,11,11,11,1,9,10,9,7,10,1,9,7,9,10,9,1,9,11,11,11,11,11,10,9,1,10,9,7,1,9,10,1,9,10,7,9,1,10,9,7,10,1,9,10,1,9,7,10,9,1,10,9,1,9,11,11,9,11,1,11,11,9,11,1,11,9,11,1,11,11,11],
[11,11,11,11,11,11,11,9,10,1,9,10,7,9,10,9,1,10,9,10,9,9,11,11,11,11,11,9,10,1,9,10,9,7,10,9,10,1,9,10,9,11,9,10,1,10,9,10,7,9,10,9,1,10,9,7,10,9,1,9,1,7,9,11,1,9,7,1,9,11,4,9,1,7,11,11],
[11,11,11,11,11,7,9,10,9,10,9,9,10,9,10,8,10,9,10,10,9,10,11,11,11,11,11,10,9,10,9,9,10,10,9,8,10,9,10,9,10,10,9,10,9,10,11,9,10,9,10,9,9,10,9,10,8,10,9,10,9,10,7,9,10,9,9,10,9,7,10,9,1,10,9,9],
[11,11,11,9,10,9,10,9,10,9,10,9,10,8,9,10,9,10,10,9,9,10,11,11,11,11,11,9,10,9,10,9,10,9,9,10,9,10,10,8,9,10,10,9,10,9,9,10,10,9,8,10,9,10,10,9,10,9,10,9,10,9,10,8,9,10,9,9,10,9,10,8,9,10,10,9],
[11,9,10,9,10,8,9,10,10,9,8,10,9,10,9,8,10,10,9,10,8,9,11,11,11,11,11,10,9,8,10,10,9,10,8,9,10,10,9,8,10,9,10,10,8,9,10,9,10,8,10,9,10,10,9,8,10,9,10,9,10,8,10,9,10,10,8,9,10,9,10,10,9,8,10,9],
[9,10,8,10,9,8,9,7,9,10,9,8,7,9,8,10,9,8,10,7,9,8,11,11,11,11,11,9,8,7,9,10,8,9,7,10,9,8,9,10,7,8,9,10,9,7,9,8,10,9,8,7,9,10,8,9,7,10,9,8,10,9,7,9,10,8,9,7,10,9,8,9,10,7,9,8],
[8,9,7,8,8,7,8,9,7,8,7,8,8,7,8,9,7,8,8,7,8,7,11,11,11,11,11,8,9,7,8,8,9,7,8,7,8,9,8,7,8,8,7,9,8,7,8,8,9,7,8,7,8,8,9,7,8,7,8,9,8,7,8,8,9,7,8,7,8,9,7,8,8,7,8,9]
];

const levelColors=['#131c60','#1f3f95','#2b58a8','#2f88cc','#3cc2ee','#70c6b0','#a8cf45','#f0e614','#f9a01b','#ee3a22','#a81712','#ffffff'];
const timeMajorHours=[0,6,12,18,24,30];

/* ---------- Helpers and scales ---------- */
const NS='http://www.w3.org/2000/svg';
function mk(tag,attrs,parent){const el=document.createElementNS(NS,tag);for(const k in attrs){el.setAttribute(k,attrs[k]);}parent.appendChild(el);return el;}
function $(id){return document.getElementById(id);}
const xTemp=v=>133.9+(v+40)*17.45;
const yTemp=h=>666.7-h*125.88;
const xRh=v=>210+(v-50)*5.228;
const yRh=h=>1454-h*125.16;
const xTime=t=>675+t*35.75;
const yB=h=>661.7-h*124.88;
const yD=h=>1456.8-h*124.82;
const AXIS='#222';

/* ---------- Line panels ---------- */
function drawLine(parent,xs,ys,hs,vs,color){
  const pts=hs.map((h,i)=>xs(vs[i]).toFixed(1)+','+ys(h).toFixed(1)).join(' ');
  const line=mk('polyline',{points:pts,fill:'none',stroke:color,'stroke-width':4.2,'stroke-linejoin':'round'},parent);
  return line;
}
let s;
s=drawLine($('a-lines'),xTemp,yTemp,tempHeightRed,tempValuesRed,'#ed1c24');


s=drawLine($('a-lines'),xTemp,yTemp,tempHeightBlue,tempValuesBlue,'#27b6ea');


s=drawLine($('a-lines'),xTemp,yTemp,tempHeightBlack,tempValuesBlack,'#1a1a1a');


s=drawLine($('a-lines'),xTemp,yTemp,tempHeightOlive,tempValuesOlive,'#b3b92e');


s=drawLine($('c-lines'),xRh,yRh,rhHeightBlue,rhValuesBlue,'#27b6ea');


s=drawLine($('c-lines'),xRh,yRh,rhHeightRed,rhValuesRed,'#ed1c24');


s=drawLine($('c-lines'),xRh,yRh,rhHeightBlack,rhValuesBlack,'#1a1a1a');


s=drawLine($('c-lines'),xRh,yRh,rhHeightOlive,rhValuesOlive,'#b3b92e');



/* ---------- Profile panel axes ---------- */
function profileAxes(gridG,axesG,cfg){
  const {xs,ys,left,right,top,bottom,ticks,labels,minorFrom,minorTo,minorStep,labelRight,labelBase,gridTicks,xLabelY,prefix}=cfg;
  gridTicks.forEach(v=>{
    const g=mk('line',{x1:xs(v),x2:xs(v),y1:top,y2:bottom,stroke:'#c4c4c4','stroke-width':2},gridG);
    
    
  });
  [1,2,3,4].forEach(h=>{
    const g=mk('line',{x1:left,x2:right,y1:ys(h),y2:ys(h),stroke:'#c4c4c4','stroke-width':2},gridG);
    
    
  });
  for(let v=minorFrom;v<=minorTo;v+=minorStep){
    const t=mk('line',{x1:xs(v),x2:xs(v),y1:top-3,y2:top,stroke:AXIS,'stroke-width':1.3},axesG);
    
    
  }
  ticks.forEach((v,i)=>{
    const t1=mk('line',{x1:xs(v),x2:xs(v),y1:top-5,y2:top,stroke:AXIS,'stroke-width':1.6},axesG);
    
    
    const t2=mk('line',{x1:xs(v),x2:xs(v),y1:bottom,y2:bottom+5,stroke:AXIS,'stroke-width':1.6},axesG);
    
    
    const lab=mk('text',{x:xs(v),y:xLabelY,'font-size':34,'text-anchor':'middle',class:'dj'},axesG);
    lab.textContent=labels[i];
    
    
  });
  for(let k=0;k<=25;k++){
    const h=k*0.2,major=k%5===0,len=major?6:3;
    const a=mk('line',{x1:left-len,x2:left,y1:ys(h),y2:ys(h),stroke:AXIS,'stroke-width':1.4},axesG);
    
    
    const b=mk('line',{x1:right,x2:right+len,y1:ys(h),y2:ys(h),stroke:AXIS,'stroke-width':1.4},axesG);
    
    
  }
  heightTicks.forEach((h,i)=>{
    const lab=mk('text',{x:labelRight,y:ys(h)+labelBase,'font-size':34,'text-anchor':'end',class:'dj'},axesG);
    lab.textContent=heightTickLabels[i];
    
    
  });
  const fr=mk('rect',{x:left,y:top,width:right-left,height:bottom-top,fill:'none',stroke:'#333','stroke-width':1.8},axesG);
  
  
}
profileAxes($('a-grid'),$('a-axes'),{xs:xTemp,ys:yTemp,left:110.7,right:483,top:37.3,bottom:666.7,ticks:tempTicks,labels:tempTickLabels,minorFrom:-41,minorTo:-20,minorStep:1,labelRight:96,labelBase:14,gridTicks:[-40,-35,-30,-25],xLabelY:705,prefix:'temperature'});
profileAxes($('c-grid'),$('c-axes'),{xs:xRh,ys:yRh,left:105.7,right:476.8,top:828.2,bottom:1454,ticks:rhTicks,labels:rhTickLabels,minorFrom:35,minorTo:100,minorStep:5,labelRight:93.6,labelBase:14,gridTicks:[50,75,100],xLabelY:1493,prefix:'rh'});

/* ---------- Heatmaps ---------- */
function drawHeat(parent,cols,ys,prefix){
  const nC=cols.length,nR=cols[0].length;
  const x0=640.6,cw=1107/nC,kmPerRow=5/nR;
  cols.forEach((col,c)=>{
    col.forEach((v,r)=>{
      const yTop=ys(5-r*kmPerRow),yBot=ys(5-(r+1)*kmPerRow);
      const pad=14;
      const xa=x0+c*cw-(c===0?pad:0),xb=x0+(c+1)*cw+(c===nC-1?pad:0);
      const ya=yTop-(r===0?pad:0),yb=yBot+(r===nR-1?pad:0);
      const cell=mk('rect',{x:xa.toFixed(1),y:ya.toFixed(1),width:(xb-xa+.6).toFixed(1),height:(yb-ya+.6).toFixed(1),fill:levelColors[v]},parent);
      
      
    });
  });
}
drawHeat($('b-cells'),signalColumns,yB,'signal');
drawHeat($('d-cells'),rhColumns,yD,'rh');

/* signal streaks, gaps and spots */
streakHour.forEach((t,i)=>{
  const st=mk('rect',{x:xTime(t)-3,y:yB(streakTop[i]),width:6,height:yB(streakBottom[i])-yB(streakTop[i]),fill:levelColors[streakLevel[i]],opacity:.6},$('b-streaks'));
  
  
});
signalGapStart.forEach((t,i)=>{
  const g=mk('rect',{x:xTime(t),y:37.3,width:xTime(signalGapEnd[i])-xTime(t),height:624.4,fill:'#141d62'},$('b-overlay'));
  
  
});
signalHoleHour.forEach((t,i)=>{
  const h=mk('ellipse',{cx:xTime(t),cy:yB(signalHoleHeight[i]),rx:i===0?9:4,ry:3,fill:'#141d62'},$('b-overlay'));
  
  
});
const bStrip=mk('rect',{x:640.6,y:yB(.055),width:1107,height:yB(0)-yB(.055),fill:'#141d62'},$('b-overlay'));



/* RH noise texture */
function drawNoise(rows,startHour,stepHour,startKm,stepKm){
  rows.forEach((row,r)=>{
    row.forEach((v,c)=>{
      const t=startHour+c*stepHour,k=startKm-r*stepKm;
      const n=mk('rect',{x:xTime(t).toFixed(1),y:yD(k).toFixed(1),width:(xTime(stepHour)-xTime(0)+.5).toFixed(1),height:(yD(k-stepKm)-yD(k)+.5).toFixed(1),fill:levelColors[v]},$('d-noise'));
      
      
    });
  });
}
drawNoise(noiseLeftRows,-.95,.25,5,.08);
drawNoise(noiseRightRows,26,.25,5,.08);
drawNoise(noiseBandRows,3.3,.3,2.96,.08);

groundBandHeight.forEach((h,i)=>{
  const b=mk('rect',{x:640.6,y:yD(h)-2,width:1107,height:4,fill:levelColors[groundBandLevel[i]],opacity:.6},$('d-overlay'));
  
  
});
speckHour.forEach((t,i)=>{
  const d=mk('rect',{x:xTime(t)-3,y:yD(speckHeight[i])-2.5,width:6,height:5,fill:levelColors[speckLevel[i]]},$('d-overlay'));
  
  
});
rhGapStart.forEach((t,i)=>{
  const g=mk('rect',{x:xTime(t),y:832.7,width:xTime(rhGapEnd[i])-xTime(t),height:624.1,fill:'#fff'},$('d-overlay'));
  
  
});

/* ---------- Section panel axes ---------- */
function sectionAxes(parent,ys,top,bottom,prefix){
  for(let h=-1;h<=30;h++){
    const major=timeMajorHours.indexOf(h)>=0;
    const up=major?18:9,down=major?22:12;
    const a=mk('line',{x1:xTime(h),x2:xTime(h),y1:top-up,y2:top,stroke:AXIS,'stroke-width':major?2:1.6},parent);
    
    
    const b=mk('line',{x1:xTime(h),x2:xTime(h),y1:bottom,y2:bottom+down*.6,stroke:AXIS,'stroke-width':major?2:1.6},parent);
    
    
  }
  for(let k=0;k<=25;k++){
    const h=k*0.2,major=k%5===0;
    const a=mk('line',{x1:640.6-(major?17:10),x2:640.6,y1:ys(h),y2:ys(h),stroke:AXIS,'stroke-width':major?2:1.6},parent);
    
    
    const b=mk('line',{x1:1747.7,x2:1747.7+(major?19:12),y1:ys(h),y2:ys(h),stroke:AXIS,'stroke-width':major?2:1.6},parent);
    
    
  }
  const fr=mk('rect',{x:640.6,y:top,width:1107.1,height:bottom-top,fill:'none',stroke:AXIS,'stroke-width':2.2},parent);
  
  
}
sectionAxes($('b-axes'),yB,37.3,661.7,'signal');
sectionAxes($('d-axes'),yD,832.7,1456.8,'rh');
</script>
</body>
</html>
